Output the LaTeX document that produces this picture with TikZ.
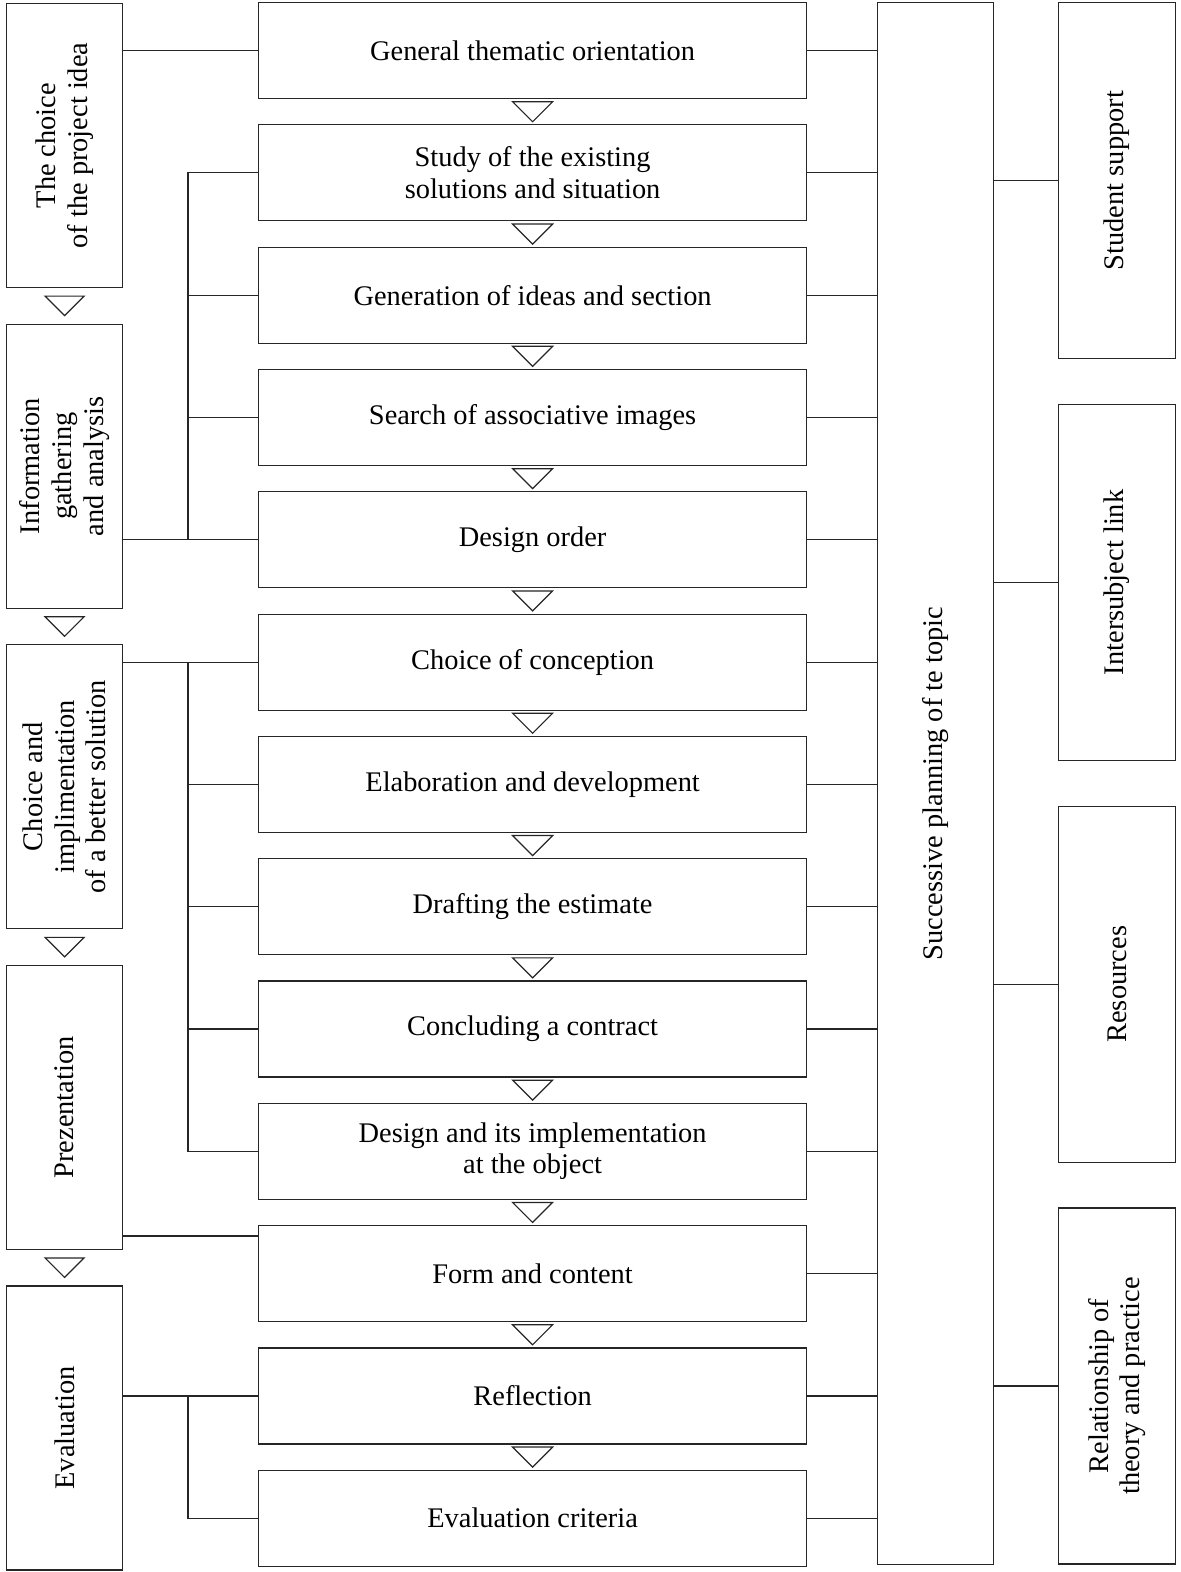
\documentclass[tikz,border=0pt]{standalone}
\usepackage{fontspec}
\setmainfont{Liberation Serif}
\usepackage{tikz}
\usetikzlibrary{calc,positioning}

% small down-pointing triangle in the gap between two boxes
\newcommand{\gaptri}[3]{%
  \draw[tri] ($(#1.south)!0.5!(#2.north)$) ++(-#3,#3/2) -- ++(2*#3,0) -- ++(-#3,-#3) -- cycle;}

\begin{document}
\begin{tikzpicture}[
  every node/.style={font=\fontsize{14.2pt}{15.8pt}\selectfont},
  frame/.style={draw=black!85,line width=0.6pt},
  stage/.style={frame,minimum width=58pt,minimum height=142pt,inner sep=0pt},
  stepbox/.style={frame,minimum width=274pt,minimum height=48pt,align=center},
  side/.style={frame,minimum width=58.5pt,minimum height=178pt,inner sep=0pt},
  vtext/.style={rotate=90,align=center},
  link/.style={black!85,line width=0.6pt},
  tri/.style={draw=black!85,line width=0.6pt,fill=white}
]
\useasboundingbox (0,0) rectangle (590pt,-786pt);

% steps of the project
\node[stepbox,anchor=north west] (gen) at (129pt,-1pt) {General thematic orientation};
\node[stepbox,below=12.55pt of gen] (study) {Study of the existing\\solutions and situation};
\node[stepbox,below=12.55pt of study] (ideas) {Generation of ideas and section};
\node[stepbox,below=12.55pt of ideas] (images) {Search of associative images};
\node[stepbox,below=12.55pt of images] (order) {Design order};
\node[stepbox,below=12.55pt of order] (concept) {Choice of conception};
\node[stepbox,below=12.55pt of concept] (develop) {Elaboration and development};
\node[stepbox,below=12.55pt of develop] (estimate) {Drafting the estimate};
\node[stepbox,below=12.55pt of estimate] (contract) {Concluding a contract};
\node[stepbox,below=12.55pt of contract] (implement) {Design and its implementation\\at the object};
\node[stepbox,below=12.55pt of implement] (form) {Form and content};
\node[stepbox,below=12.55pt of form] (reflect) {Reflection};
\node[stepbox,below=12.55pt of reflect] (criteria) {Evaluation criteria};

% stages
\node[stage,anchor=north west] (idea) at (3pt,-1.5pt) {};
\node[stage,below=17.7pt of idea] (info) {};
\node[stage,below=17.7pt of info] (solution) {};
\node[stage,below=17.7pt of solution] (present) {};
\node[stage,below=17.7pt of present] (eval) {};
\node[vtext] (ideat) at (idea) {The choice\\of the project idea};
\node[vtext] (infot) at (info) {Information\\gathering\\and analysis};
\node[vtext] (solutiont) at (solution) {Choice and\\implimentation\\of a better solution};
\node[vtext] (presentt) at (present) {Prezentation};
\node[vtext] (evalt) at (eval) {Evaluation};

% planning column
\node[frame,minimum width=58pt,minimum height=781pt,anchor=north west] (plan) at (438.5pt,-1pt) {};
\node[vtext] (plant) at (plan) {Successive planning of te topic};

% conditions
\node[side,anchor=north west] (support) at (529pt,-1pt) {};
\node[side,below=22.3pt of support] (inter) {};
\node[side,below=22.3pt of inter] (resources) {};
\node[side,below=22.3pt of resources] (practice) {};
\node[vtext] (supportt) at (support) {Student support};
\node[vtext] (intert) at (inter) {Intersubject link};
\node[vtext] (resourcest) at (resources) {Resources};
\node[vtext] (practicet) at (practice) {Relationship of\\theory and practice};

% stages to steps
\draw[link] (idea.east |- gen.west) -- (gen.west);
\draw[link] (info.east |- order.west) -- (order.west);
\draw[link] (study.west) -- ++(-35pt,0) |- (order.west);
\draw[link] (ideas.west) -- ++(-35pt,0) (images.west) -- ++(-35pt,0);
\draw[link] (solution.east |- concept.west) -- (concept.west);
\draw[link] (concept.west) -- ++(-35pt,0) |- (implement.west);
\draw[link] (develop.west) -- ++(-35pt,0) (estimate.west) -- ++(-35pt,0) (contract.west) -- ++(-35pt,0);
\coordinate (pf) at ([yshift=7pt]present.south east);
\draw[link] (pf) -- (pf -| form.west);
\draw[link] (eval.east |- reflect.west) -- (reflect.west);
\draw[link] (reflect.west) -- ++(-35pt,0) |- (criteria.west);

% steps to planning
\draw[link] (gen.east) -- (gen.east -| plan.west) (study.east) -- (study.east -| plan.west);
\draw[link] (ideas.east) -- (ideas.east -| plan.west) (images.east) -- (images.east -| plan.west);
\draw[link] (order.east) -- (order.east -| plan.west) (concept.east) -- (concept.east -| plan.west);
\draw[link] (develop.east) -- (develop.east -| plan.west) (estimate.east) -- (estimate.east -| plan.west);
\draw[link] (contract.east) -- (contract.east -| plan.west) (implement.east) -- (implement.east -| plan.west);
\draw[link] (form.east) -- (form.east -| plan.west) (reflect.east) -- (reflect.east -| plan.west);
\draw[link] (criteria.east) -- (criteria.east -| plan.west);

% planning to conditions
\draw[link] (support.west) -- (support.west -| plan.east) (inter.west) -- (inter.west -| plan.east);
\draw[link] (resources.west) -- (resources.west -| plan.east) (practice.west) -- (practice.west -| plan.east);

% order marks
\gaptri{gen}{study}{10pt}
\gaptri{study}{ideas}{10pt}
\gaptri{ideas}{images}{10pt}
\gaptri{images}{order}{10pt}
\gaptri{order}{concept}{10pt}
\gaptri{concept}{develop}{10pt}
\gaptri{develop}{estimate}{10pt}
\gaptri{estimate}{contract}{10pt}
\gaptri{contract}{implement}{10pt}
\gaptri{implement}{form}{10pt}
\gaptri{form}{reflect}{10pt}
\gaptri{reflect}{criteria}{10pt}
\gaptri{idea}{info}{9.75pt}
\gaptri{info}{solution}{9.75pt}
\gaptri{solution}{present}{9.75pt}
\gaptri{present}{eval}{9.75pt}
\end{tikzpicture}
\end{document}
